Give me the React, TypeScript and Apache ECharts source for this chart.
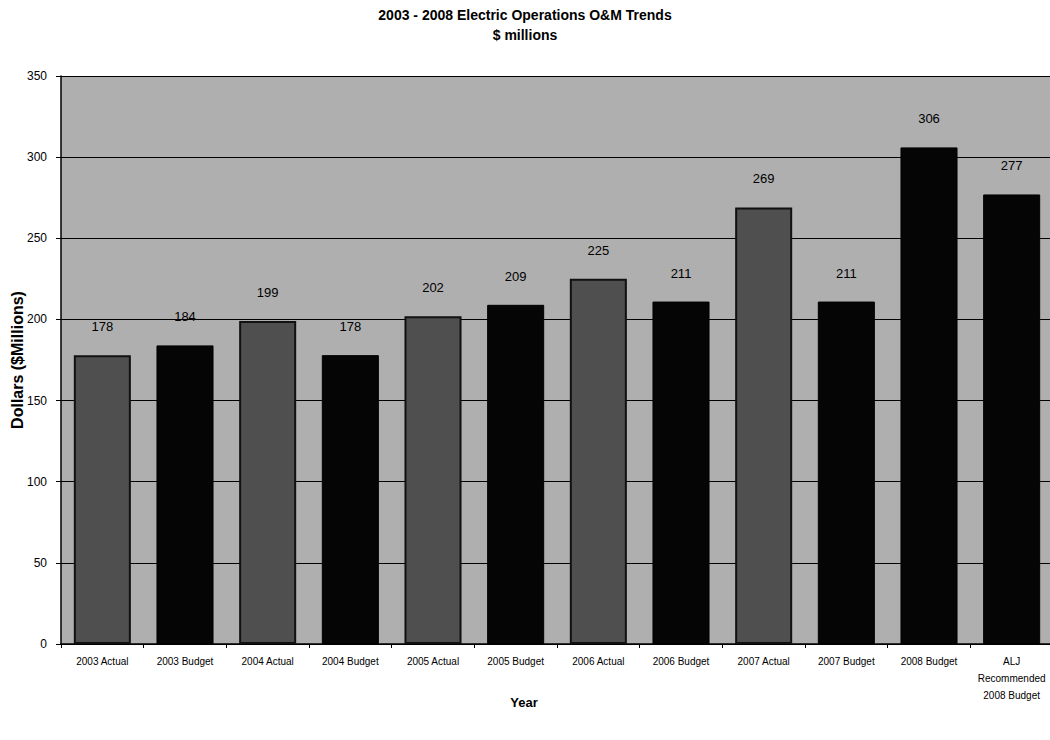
import React, { useEffect, useRef } from "react";
import * as echarts from "echarts";

const categories = [
  "2003 Actual",
  "2003 Budget",
  "2004 Actual",
  "2004 Budget",
  "2005 Actual",
  "2005 Budget",
  "2006 Actual",
  "2006 Budget",
  "2007 Actual",
  "2007 Budget",
  "2008 Budget",
  "ALJ\nRecommended\n2008 Budget",
];
const values = [178, 184, 199, 178, 202, 209, 225, 211, 269, 211, 306, 277];
const kinds = [
  "Actual", "Budget", "Actual", "Budget", "Actual", "Budget",
  "Actual", "Budget", "Actual", "Budget", "Budget", "Budget",
];
const yMin = 0;
const yMax = 350;
const yStep = 50;

const titleText = "2003 - 2008 Electric Operations O&M Trends";
const subtitleText = "$ millions";
const yAxisTitle = "Dollars ($Millions)";
const xAxisTitle = "Year";

const FONT = "'Liberation Sans Narrow', 'Arial Narrow', 'Liberation Sans', Arial, sans-serif";

export default function App() {
  const ref = useRef<HTMLDivElement>(null);
  useEffect(() => {
    if (!ref.current) return;
    const chart = echarts.init(ref.current, undefined, { renderer: "svg" });
    chart.setOption({
      animation: false,
      backgroundColor: "#ffffff",
      textStyle: { fontFamily: FONT, color: "#000" },
      title: {
        text: titleText,
        subtext: subtitleText,
        left: "center",
        top: 3,
        itemGap: 6,
        textStyle: { fontFamily: FONT, fontSize: 14, fontWeight: "bold", color: "#000" },
        subtextStyle: { fontFamily: FONT, fontSize: 14, fontWeight: "bold", color: "#000" },
      },
      grid: {
        left: 61,
        top: 76,
        width: 992,
        bottom: 96,
        show: true,
        outerBoundsMode: "none",
        containLabel: false,
        backgroundColor: "#afafaf",
        borderColor: "#000",
        borderWidth: 0,
      },
      xAxis: {
        type: "category",
        data: categories,
        name: xAxisTitle,
        nameLocation: "middle",
        nameGap: 52,
        nameMoveOverlap: false,
        nameTextStyle: {
          fontFamily: FONT,
          fontSize: 13,
          fontWeight: "bold",
          color: "#000",
          padding: [0, 66, 0, 0],
        },
        axisLine: { show: true, lineStyle: { color: "#000", width: 1.5 } },
        axisTick: { show: true, length: 4, lineStyle: { color: "#000" } },
        axisLabel: {
          interval: 0,
          margin: 9,
          fontFamily: FONT,
          fontSize: 10,
          lineHeight: 17,
          color: "#000",
        },
      },
      yAxis: {
        type: "value",
        min: yMin,
        max: yMax,
        interval: yStep,
        name: yAxisTitle,
        nameLocation: "middle",
        nameGap: 36,
        nameMoveOverlap: false,
        nameRotate: 90,
        nameTextStyle: { fontFamily: FONT, fontSize: 16, fontWeight: "bold", color: "#000" },
        axisLine: { show: true, lineStyle: { color: "#000", width: 1.5 } },
        axisTick: { show: true, length: 5, lineStyle: { color: "#000" } },
        axisLabel: { fontFamily: FONT, fontSize: 12, color: "#000", margin: 14 },
        splitLine: { show: true, lineStyle: { color: "#000", width: 1.2 } },
      },
      series: [
        {
          type: "bar",
          data: values.map((v, i) => ({
            value: v,
            itemStyle:
              kinds[i] === "Actual"
                ? { color: "#4f4f4f", borderColor: "#111111", borderWidth: 2 }
                : { color: "#050505", borderColor: "#000000", borderWidth: 1 },
          })),
          barCategoryGap: "31%",
          label: {
            show: true,
            position: "top",
            distance: 22,
            fontFamily: FONT,
            fontSize: 13,
            color: "#000",
          },
        },
      ],
    });
    return () => chart.dispose();
  }, []);
  return (
    <div
      ref={ref}
      style={{ position: "fixed", left: 0, top: 0, width: 1050, height: 740 }}
    />
  );
}
